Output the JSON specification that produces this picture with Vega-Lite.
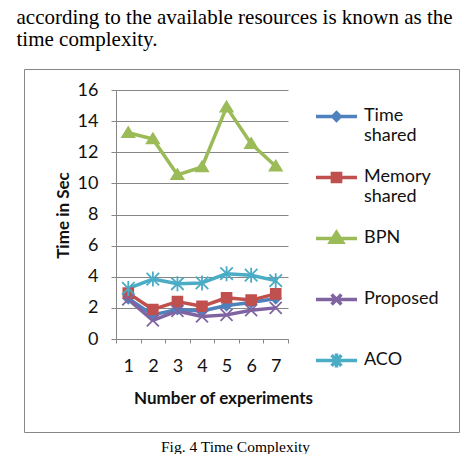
{
  "$schema": "https://vega.github.io/schema/vega-lite/v6.json",
  "padding": {"left": 16, "top": 6, "right": 0, "bottom": 0},
  "background": "white",
  "title": {
    "text": ["according to the available resources is known as the", "time complexity."],
    "anchor": "start",
    "frame": "bounds",
    "font": "Liberation Serif",
    "fontSize": 21,
    "fontWeight": "normal",
    "lineHeight": 22.6,
    "color": "#000000",
    "offset": 18,
    "dx": -7
  },
  "config": {
    "view": {"stroke": "#878787", "strokeWidth": 1},
    "axis": {
      "labelFont": "Lato",
      "labelFontSize": 18,
      "labelColor": "#111111",
      "titleFont": "Lato",
      "titleFontSize": 17,
      "titleFontWeight": "bold",
      "titleColor": "#111111",
      "domainColor": "#868686",
      "tickColor": "#868686",
      "gridColor": "#868686",
      "domainWidth": 1,
      "tickWidth": 1,
      "gridWidth": 1
    }
  },
  "vconcat": [
    {
      "width": 435,
      "height": 363,
      "title": {
        "text": "Fig. 4 Time Complexity",
        "orient": "bottom",
        "anchor": "middle",
        "font": "Liberation Serif",
        "fontSize": 15.5,
        "fontWeight": "normal",
        "color": "#000000",
        "offset": 8,
        "dx": -6
      },
      "data": {
        "values": [
          {"experiment": 1, "series": "Time shared", "time": 2.6},
          {"experiment": 2, "series": "Time shared", "time": 1.55},
          {"experiment": 3, "series": "Time shared", "time": 1.9},
          {"experiment": 4, "series": "Time shared", "time": 1.8},
          {"experiment": 5, "series": "Time shared", "time": 2.15},
          {"experiment": 6, "series": "Time shared", "time": 2.35},
          {"experiment": 7, "series": "Time shared", "time": 2.6},
          {"experiment": 1, "series": "Memory shared", "time": 2.95},
          {"experiment": 2, "series": "Memory shared", "time": 1.9},
          {"experiment": 3, "series": "Memory shared", "time": 2.4},
          {"experiment": 4, "series": "Memory shared", "time": 2.1},
          {"experiment": 5, "series": "Memory shared", "time": 2.65},
          {"experiment": 6, "series": "Memory shared", "time": 2.5},
          {"experiment": 7, "series": "Memory shared", "time": 2.9},
          {"experiment": 1, "series": "BPN", "time": 13.25},
          {"experiment": 2, "series": "BPN", "time": 12.85},
          {"experiment": 3, "series": "BPN", "time": 10.55},
          {"experiment": 4, "series": "BPN", "time": 11.05},
          {"experiment": 5, "series": "BPN", "time": 14.9},
          {"experiment": 6, "series": "BPN", "time": 12.55},
          {"experiment": 7, "series": "BPN", "time": 11.1},
          {"experiment": 1, "series": "Proposed", "time": 2.55},
          {"experiment": 2, "series": "Proposed", "time": 1.2},
          {"experiment": 3, "series": "Proposed", "time": 1.8},
          {"experiment": 4, "series": "Proposed", "time": 1.45},
          {"experiment": 5, "series": "Proposed", "time": 1.55},
          {"experiment": 6, "series": "Proposed", "time": 1.85},
          {"experiment": 7, "series": "Proposed", "time": 2.0},
          {"experiment": 1, "series": "ACO", "time": 3.25},
          {"experiment": 2, "series": "ACO", "time": 3.85},
          {"experiment": 3, "series": "ACO", "time": 3.55},
          {"experiment": 4, "series": "ACO", "time": 3.6},
          {"experiment": 5, "series": "ACO", "time": 4.2},
          {"experiment": 6, "series": "ACO", "time": 4.1},
          {"experiment": 7, "series": "ACO", "time": 3.75}
        ]
      },
      "encoding": {
        "x": {
          "field": "experiment",
          "type": "ordinal",
          "scale": {"type": "band", "range": [92, 264], "paddingInner": 0, "paddingOuter": 0},
          "axis": {
            "title": "Number of experiments",
            "offset": -93,
            "labelAngle": 0,
            "tickBand": "extent",
            "tickSize": 4,
            "labelPadding": 23,
            "labelBaseline": "middle",
            "grid": false,
            "titleX": 199,
            "titleY": 59,
            "titleBaseline": "middle",
            "titleAlign": "center",
            "titleAnchor": null
          }
        },
        "y": {
          "field": "time",
          "type": "quantitative",
          "scale": {"domain": [0, 16], "range": [270, 21], "nice": false, "zero": true},
          "axis": {
            "title": "Time in Sec",
            "offset": -92,
            "values": [0, 2, 4, 6, 8, 10, 12, 14, 16],
            "tickSize": 5,
            "labelPadding": 13,
            "grid": true,
            "titleX": -53,
            "titleY": 146,
            "titleAngle": -90,
            "titleBaseline": "middle",
            "titleAlign": "center",
            "titleAnchor": null
          }
        }
      },
      "layer": [
        {
          "mark": {"type": "line", "strokeWidth": 3.5, "strokeJoin": "round", "strokeCap": "round"},
          "encoding": {
            "color": {
              "field": "series",
              "type": "nominal",
              "scale": {
                "domain": ["Time shared", "Memory shared", "BPN", "Proposed", "ACO"],
                "range": ["#4F81BD", "#C0504D", "#9BBB59", "#8064A2", "#4BACC6"]
              },
              "legend": {
                "title": null,
                "orient": "none",
                "legendX": 290,
                "legendY": 25,
                "symbolSize": 1681,
                "symbolStrokeWidth": 3.5,
                "labelFont": "Lato",
                "labelFontSize": 18,
                "labelColor": "#111111",
                "labelOffset": 5,
                "labelBaseline": "top",
                "labelLimit": 200,
                "gridAlign": "all",
                "rowPadding": 10,
                "labelExpr": "datum.label == 'Time shared' ? ['Time', 'shared'] : datum.label == 'Memory shared' ? ['Memory', 'shared'] : datum.label",
                "encode": {
                  "labels": {"update": {"dy": {"value": -10}}},
                  "symbols": {
                    "update": {
                      "shape": {"signal": "datum.value == 'Time shared' ? 'M-1,0H1M0,-0.18L0.18,0L0,0.18L-0.18,0Z' : datum.value == 'Memory shared' ? 'M-1,0H1M-0.2,-0.2H0.2V0.2H-0.2Z' : datum.value == 'BPN' ? 'M-1,0H1M0,-0.3L0.3,0.18H-0.3Z' : datum.value == 'Proposed' ? 'M-1,0H1M-0.24,-0.24L0.24,0.24M-0.24,0.24L0.24,-0.24' : 'M-1,0H1M-0.24,-0.26L0.24,0.26M-0.24,0.26L0.24,-0.26M0,-0.34V0.34'"},
                      "fill": {"signal": "datum.value == 'Time shared' ? '#4F81BD' : datum.value == 'Memory shared' ? '#C0504D' : datum.value == 'BPN' ? '#9BBB59' : datum.value == 'Proposed' ? '#8064A2' : '#4BACC6'"},
                      "stroke": {"signal": "datum.value == 'Time shared' ? '#4F81BD' : datum.value == 'Memory shared' ? '#C0504D' : datum.value == 'BPN' ? '#9BBB59' : datum.value == 'Proposed' ? '#8064A2' : '#4BACC6'"},
                      "strokeWidth": {"value": 3.5},
                      "opacity": {"value": 1}
                    }
                  }
                }
              }
            }
          }
        },
        {
          "transform": [{"filter": "datum.series == 'Time shared'"}],
          "mark": {"type": "point", "shape": "M0,-1L1,0L0,1L-1,0Z", "filled": true, "size": 100, "fill": "#4F81BD", "stroke": "#4F81BD", "strokeWidth": 1.6, "opacity": 1}
        },
        {
          "transform": [{"filter": "datum.series == 'Memory shared'"}],
          "mark": {"type": "point", "shape": "M-1,-1H1V1H-1Z", "filled": true, "size": 100, "fill": "#C0504D", "stroke": "#C0504D", "strokeWidth": 1.6, "opacity": 1}
        },
        {
          "transform": [{"filter": "datum.series == 'BPN'"}],
          "mark": {"type": "point", "shape": "M0,-1.15L1.25,0.9H-1.25Z", "filled": true, "size": 100, "fill": "#9BBB59", "stroke": "#9BBB59", "strokeWidth": 1.6, "opacity": 1}
        },
        {
          "transform": [{"filter": "datum.series == 'Proposed'"}],
          "mark": {"type": "point", "shape": "M-1.2,-1.2L1.2,1.2M-1.2,1.2L1.2,-1.2", "filled": false, "size": 100, "stroke": "#8064A2", "strokeWidth": 1.8, "opacity": 1}
        },
        {
          "transform": [{"filter": "datum.series == 'ACO'"}],
          "mark": {"type": "point", "shape": "M-1.25,-1.25L1.25,1.25M-1.25,1.25L1.25,-1.25M0,-1.5V1.5", "filled": false, "size": 100, "stroke": "#4BACC6", "strokeWidth": 1.8, "opacity": 1}
        }
      ]
    }
  ]
}
